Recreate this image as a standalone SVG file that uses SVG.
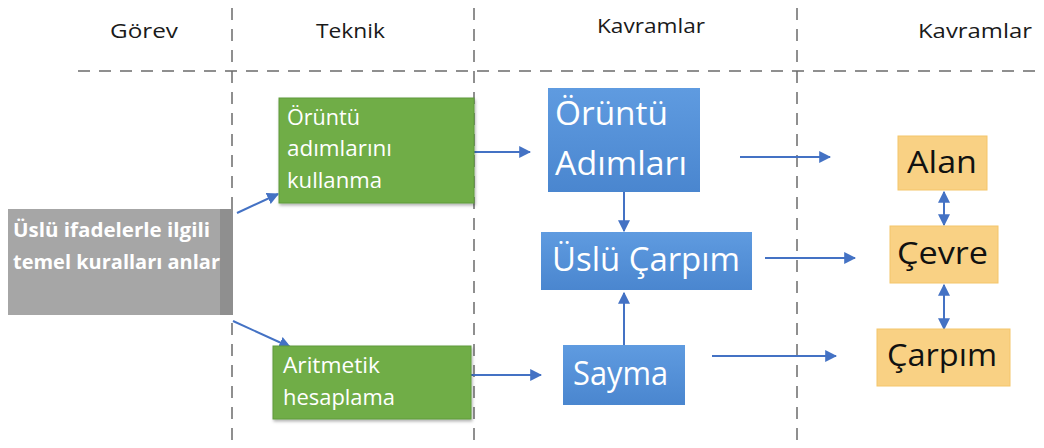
<svg xmlns="http://www.w3.org/2000/svg" width="1044" height="448" viewBox="0 0 1044 448">
<style>
.dash{stroke:#6b6b6b;stroke-width:1.5;stroke-dasharray:12,9;fill:none}
.hdr{font-family:"Open Sans",Lato,sans-serif;font-size:20px;fill:#1a1a1a}
.con{stroke:#4472C4;stroke-width:2;fill:none;marker-end:url(#ah)}
.bi{stroke:#4472C4;stroke-width:2;fill:none;marker-end:url(#ah);marker-start:url(#as)}
.grey{fill:#a6a6a6}
.green{fill:#70ad47;stroke:#5f9a3c;stroke-width:1}
.blue{fill:url(#bg)}
.orange{fill:#f9d184;stroke:#f4c56a;stroke-width:1}
.tw{font-family:"Open Sans",Lato,sans-serif;fill:#fff}
.tb{font-family:"Open Sans",Lato,sans-serif;fill:#111}
</style>
<defs>
<marker id="ah" viewBox="0 0 10 10" refX="9" refY="5" markerWidth="6" markerHeight="6" orient="auto"><path d="M0,0 L10,5 L0,10 z" fill="#4472C4"/></marker>
<marker id="as" viewBox="0 0 10 10" refX="1" refY="5" markerWidth="6" markerHeight="6" orient="auto"><path d="M10,0 L0,5 L10,10 z" fill="#4472C4"/></marker>
<linearGradient id="bg" x1="0" y1="0" x2="0" y2="1"><stop offset="0" stop-color="#5f9be0"/><stop offset="1" stop-color="#4a86cf"/></linearGradient>
<filter id="sh" x="-5%" y="-5%" width="115%" height="120%"><feDropShadow dx="1" dy="2" stdDeviation="1.5" flood-color="#000" flood-opacity="0.3"/></filter>
</defs>
<rect width="1044" height="448" fill="#fff"/>
<g id="grid">
<line class="dash" x1="78" y1="71" x2="1044" y2="71"/>
<line class="dash" x1="232" y1="8" x2="232" y2="448"/>
<line class="dash" x1="474" y1="8" x2="474" y2="448"/>
<line class="dash" x1="797" y1="8" x2="797" y2="448"/>
</g>
<g id="headers">
<text class="hdr" x="110" y="38" textLength="68" lengthAdjust="spacingAndGlyphs">Görev</text>
<text class="hdr" x="316" y="38" textLength="69" lengthAdjust="spacingAndGlyphs">Teknik</text>
<text class="hdr" x="597" y="33" textLength="108" lengthAdjust="spacingAndGlyphs">Kavramlar</text>
<text class="hdr" x="918" y="38" textLength="114" lengthAdjust="spacingAndGlyphs">Kavramlar</text>
</g>
<g id="connectors">
<line class="con" x1="237" y1="213" x2="278" y2="194"/>
<line class="con" x1="233" y1="321" x2="290" y2="347"/>
<line class="con" x1="445" y1="152" x2="530" y2="152"/>
<line class="con" x1="624" y1="192" x2="624" y2="231"/>
<line class="con" x1="624" y1="345" x2="624" y2="293"/>
<line class="con" x1="471" y1="375" x2="541" y2="375"/>
<line class="con" x1="740" y1="157" x2="830" y2="157"/>
<line class="con" x1="765" y1="258" x2="855" y2="258"/>
<line class="con" x1="712" y1="356" x2="836" y2="356"/>
<line class="bi" x1="944" y1="192" x2="944" y2="225"/>
<line class="bi" x1="944" y1="285" x2="944" y2="329"/>
</g>
<g id="node-gorev">
<rect class="grey" x="8" y="209" width="225" height="106"/>
<rect x="220" y="209" width="13" height="106" fill="#8f8f8f"/>
<text class="tw" x="13" y="237" font-size="19" font-weight="bold" textLength="197" lengthAdjust="spacingAndGlyphs">Üslü ifadelerle ilgili</text>
<text class="tw" x="13" y="269" font-size="19" font-weight="bold" textLength="207" lengthAdjust="spacingAndGlyphs">temel kuralları anlar</text>
</g>
<g id="node-oruntu-kullanma">
<rect class="green" x="279" y="98" width="195" height="105" filter="url(#sh)"/>
<text class="tw" x="287" y="125" font-size="22" textLength="73" lengthAdjust="spacingAndGlyphs">Örüntü</text>
<text class="tw" x="287" y="156" font-size="22" textLength="105" lengthAdjust="spacingAndGlyphs">adımlarını</text>
<text class="tw" x="287" y="188" font-size="22" textLength="95" lengthAdjust="spacingAndGlyphs">kullanma</text>
</g>
<g id="node-aritmetik">
<rect class="green" x="273" y="346" width="198" height="73" filter="url(#sh)"/>
<text class="tw" x="283" y="373" font-size="22" textLength="97" lengthAdjust="spacingAndGlyphs">Aritmetik</text>
<text class="tw" x="283" y="405" font-size="22" textLength="112" lengthAdjust="spacingAndGlyphs">hesaplama</text>
</g>
<g id="node-oruntu-adimlari">
<rect class="blue" x="548" y="88" width="152" height="104"/>
<text class="tw" x="555" y="125" font-size="33" textLength="113" lengthAdjust="spacingAndGlyphs">Örüntü</text>
<text class="tw" x="555" y="175" font-size="33" textLength="132" lengthAdjust="spacingAndGlyphs">Adımları</text>
</g>
<g id="node-uslu-carpim">
<rect class="blue" x="541" y="232" width="211" height="58"/>
<text class="tw" x="552" y="271" font-size="32" textLength="188" lengthAdjust="spacingAndGlyphs">Üslü Çarpım</text>
</g>
<g id="node-sayma">
<rect class="blue" x="563" y="345" width="122" height="60"/>
<text class="tw" x="573" y="385" font-size="33" textLength="95" lengthAdjust="spacingAndGlyphs">Sayma</text>
</g>
<g id="node-alan">
<rect class="orange" x="898" y="136" width="89" height="54"/>
<text class="tb" x="907" y="173" font-size="31" textLength="70" lengthAdjust="spacingAndGlyphs">Alan</text>
</g>
<g id="node-cevre">
<rect class="orange" x="890" y="226" width="108" height="57"/>
<text class="tb" x="897" y="264" font-size="31" textLength="91" lengthAdjust="spacingAndGlyphs">Çevre</text>
</g>
<g id="node-carpim">
<rect class="orange" x="877" y="329" width="133" height="57"/>
<text class="tb" x="887" y="366" font-size="31" textLength="110" lengthAdjust="spacingAndGlyphs">Çarpım</text>
</g>
</svg>
